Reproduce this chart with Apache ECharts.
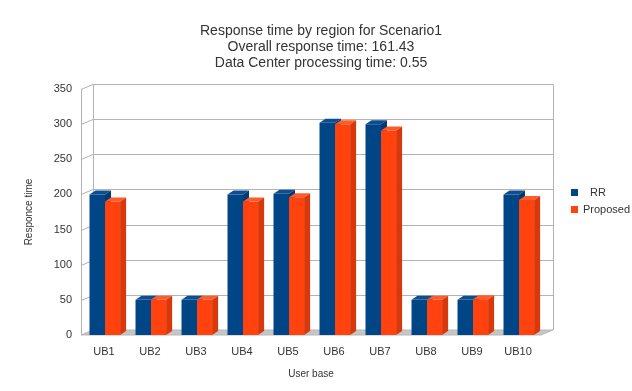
<!DOCTYPE html>
<html>
<head>
<meta charset="utf-8">
<script src="https://cdn.jsdelivr.net/npm/echarts@6/dist/echarts.min.js"></script>
<style>
  html, body { margin: 0; padding: 0; background: #ffffff; }
  #chart { width: 632px; height: 391px; }
</style>
</head>
<body>
<div id="chart"></div>
<script>
// Response time per user base, two load-balancing policies
const categories = ['UB1', 'UB2', 'UB3', 'UB4', 'UB5', 'UB6', 'UB7', 'UB8', 'UB9', 'UB10'];
const rrValues = [200, 50, 50, 200, 201, 302, 300, 50, 50, 200];
const proposedValues = [190, 50, 50, 190, 196, 300, 291, 50, 51, 192];
const valueTicks = [0, 50, 100, 150, 200, 250, 300, 350];
const titleLines = [
  'Response time by region for Scenario1',
  'Overall response time: 161.43',
  'Data Center processing time: 0.55'
];

const FONT = '"Liberation Sans", Arial, sans-serif';
// pseudo-3D depth of the plot box and of each bar
const WALL_DX = 12, WALL_DY = -5;
const BAR_DX = 6, BAR_DY = -4;
const GRID_COLOR = '#b3b3b3';

const chart = echarts.init(document.getElementById('chart'), null, { renderer: 'canvas' });

// Back wall, left wall and floor of the box, drawn from the axis scales
function renderFrame(params, api) {
  const cs = params.coordSys;
  const x0 = cs.x, x1 = cs.x + cs.width;
  const yBase = api.coord([0, 0])[1];
  const yTop = api.coord([0, valueTicks[valueTicks.length - 1]])[1];
  const children = [];
  const lineStyle = { stroke: GRID_COLOR, lineWidth: 1 };
  // back wall
  children.push({ type: 'polygon', shape: { points: [
      [x0 + WALL_DX, yTop + WALL_DY], [x1 + WALL_DX, yTop + WALL_DY],
      [x1 + WALL_DX, yBase + WALL_DY], [x0 + WALL_DX, yBase + WALL_DY]] },
    style: { fill: '#ffffff' } });
  // floor
  children.push({ type: 'polygon', shape: { points: [
      [x0, yBase], [x1, yBase], [x1 + WALL_DX, yBase + WALL_DY], [x0 + WALL_DX, yBase + WALL_DY]] },
    style: { fill: '#c6c6c6', stroke: '#b8b8b8', lineWidth: 1 } });
  // grid lines on the back and left walls
  valueTicks.forEach(function (v) {
    if (v === 0) return;
    const y = Math.round(api.coord([0, v])[1]) + 0.5;
    children.push({ type: 'polyline', shape: { points: [
        [x0, y], [x0 + WALL_DX, y + WALL_DY], [x1 + WALL_DX, y + WALL_DY]] },
      style: Object.assign({ fill: null }, lineStyle) });
  });
  // wall edges
  const xl = Math.round(x0) + 0.5, xb = Math.round(x0 + WALL_DX) + 0.5, xr = Math.round(x1 + WALL_DX) + 0.5;
  children.push({ type: 'line', shape: { x1: xl, y1: yTop, x2: xl, y2: yBase }, style: lineStyle });
  children.push({ type: 'line', shape: { x1: xb, y1: yTop + WALL_DY, x2: xb, y2: yBase + WALL_DY }, style: lineStyle });
  children.push({ type: 'line', shape: { x1: xr, y1: yTop + WALL_DY, x2: xr, y2: yBase + WALL_DY }, style: lineStyle });
  return { type: 'group', children: children, silent: true };
}

// One cuboid bar: front face, top face and right side face
function makeBarRenderer(fromFrac, toFrac, colors) {
  return function (params, api) {
    const idx = api.value(0);
    const val = api.value(1);
    const band = api.size([1, 0])[0];
    const c = api.coord([idx, val]);
    const base = api.coord([idx, 0]);
    const xl = c[0] + fromFrac * band;
    const xr = c[0] + toFrac * band;
    const yt = c[1], yb = base[1];
    return {
      type: 'group',
      children: [
        { type: 'polygon', shape: { points: [[xl, yb], [xr, yb], [xr, yt], [xl, yt]] },
          style: { fill: colors.front } },
        { type: 'polygon', shape: { points: [[xl, yt], [xr, yt], [xr + BAR_DX, yt + BAR_DY], [xl + BAR_DX, yt + BAR_DY]] },
          style: { fill: colors.top } },
        { type: 'polygon', shape: { points: [[xr, yt], [xr + BAR_DX, yt + BAR_DY], [xr + BAR_DX, yb + BAR_DY], [xr, yb]] },
          style: { fill: colors.side } }
      ]
    };
  };
}

const option = {
  backgroundColor: '#ffffff',
  animation: false,
  title: {
    text: titleLines.join('\n'),
    left: 321,
    top: 23,
    padding: 0,
    textAlign: 'center',
    textStyle: { fontFamily: FONT, fontSize: 14, fontWeight: 'normal', color: '#333333', lineHeight: 16, align: 'center' }
  },
  legend: {
    orient: 'vertical',
    left: 571,
    top: 187,
    padding: 0,
    itemWidth: 7,
    itemHeight: 7,
    itemGap: 6,
    icon: 'rect',
    formatter: function (name) { return name === 'RR' ? '{gap|' + name + '}' : name; },
    textStyle: {
      fontFamily: FONT, fontSize: 11, color: '#333333',
      rich: { gap: { fontFamily: FONT, fontSize: 11, color: '#333333', padding: [0, 0, 0, 7] } }
    },
    data: ['RR', 'Proposed']
  },
  grid: { left: 81, right: 91, top: 89, bottom: 56, containLabel: false },
  xAxis: {
    type: 'category',
    data: categories,
    name: 'User base',
    nameLocation: 'middle',
    nameGap: 34,
    nameTextStyle: { fontFamily: FONT, fontSize: 10, color: '#333333' },
    axisLine: { show: false },
    axisTick: { show: false },
    axisLabel: { fontFamily: FONT, fontSize: 11, color: '#333333', margin: 11 },
    splitLine: { show: false }
  },
  yAxis: {
    type: 'value',
    min: 0,
    max: 350,
    interval: 50,
    name: 'Responce time',
    nameLocation: 'middle',
    nameGap: 47,
    nameRotate: 90,
    nameTextStyle: { fontFamily: FONT, fontSize: 10, color: '#333333' },
    axisLine: { show: false },
    axisTick: { show: false },
    axisLabel: { fontFamily: FONT, fontSize: 11, color: '#333333', margin: 9 },
    splitLine: { show: false }
  },
  series: [
    {
      type: 'custom',
      name: 'frame',
      z: 1,
      silent: true,
      data: [[0, 0]],
      renderItem: renderFrame
    },
    {
      type: 'custom',
      name: 'RR',
      z: 2,
      itemStyle: { color: '#004586' },
      encode: { x: 0, y: 1 },
      data: rrValues.map(function (v, i) { return [i, v]; }),
      renderItem: makeBarRenderer(-0.315, 0.022, { front: '#004586', top: '#0b4f91', side: '#003a70' })
    },
    {
      type: 'custom',
      name: 'Proposed',
      z: 3,
      itemStyle: { color: '#ff420e' },
      encode: { x: 0, y: 1 },
      data: proposedValues.map(function (v, i) { return [i, v]; }),
      renderItem: makeBarRenderer(0.022, 0.35, { front: '#ff420e', top: '#ff5b2b', side: '#d9380b' })
    }
  ]
};

chart.setOption(option);
</script>
</body>
</html>
